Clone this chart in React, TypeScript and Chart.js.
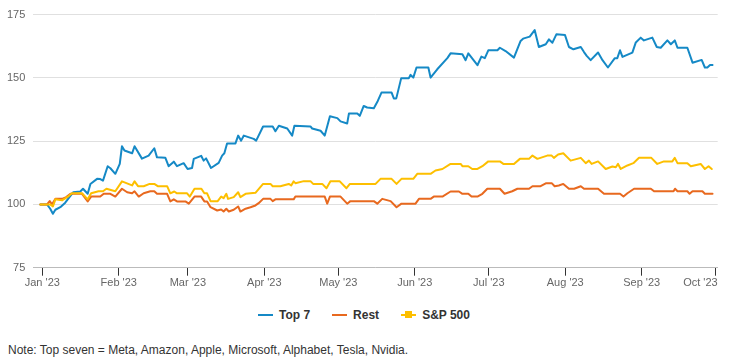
import React, { useEffect, useRef } from "react";
import { Chart, registerables } from "chart.js";

Chart.register(...registerables);

const FONT = "'Liberation Sans', Arial, Helvetica, sans-serif";

// x values are days since 1 Jan 2023
const monthTickDays = [0, 31, 59, 90, 120, 151, 181, 212, 243, 273];
const monthLabels = ["Jan '23", "Feb '23", "Mar '23", "Apr '23", "May '23", "Jun '23", "Jul '23", "Aug '23", "Sep '23", "Oct '23"];
const yTicks = [75, 100, 125, 150, 175];

const seriesNames = ["Top 7", "Rest", "S&P 500"];
const seriesColors = ["#1589c6", "#e8691f", "#fdbf00"];

const top7Days = [
  -0.8, 1.9, 3.2, 4.3, 5.3, 7.3, 9.3, 11.0, 12.5, 15.4,
  16.5, 18.4, 19.5, 22.2, 23.5, 24.6, 26.5, 27.6, 29.6, 31.4,
  32.3, 33.3, 36.4, 37.4, 40.4, 43.1, 45.4, 46.5, 49.9, 51.2,
  53.3, 54.6, 57.3, 58.9, 60.7, 61.4, 64.4, 65.4, 66.4, 68.4,
  71.5, 72.9, 73.8, 74.9, 78.3, 79.4, 80.6, 81.7, 85.7, 86.7,
  89.5, 93.4, 94.5, 95.9, 99.3, 101.3, 102.2, 108.7, 109.4, 112.8,
  114.5, 116.6, 119.6, 120.9, 123.6, 124.3, 127.7, 128.7, 130.3, 131.7,
  134.4, 136.0, 137.5, 141.6, 142.5, 143.5, 145.5, 148.6, 149.3, 150.4,
  151.7, 156.5, 157.4, 160.1, 164.2, 165.5, 170.3, 171.6, 172.7, 176.4,
  178.0, 179.4, 180.8, 184.5, 185.5, 187.8, 191.2, 193.9, 194.9, 197.6,
  199.6, 201.3, 204.1, 205.4, 206.8, 208.4, 211.9, 213.5, 215.3, 218.3,
  219.6, 220.7, 222.3, 225.3, 227.1, 229.3, 232.1, 233.1, 234.2, 235.2,
  239.2, 240.6, 242.6, 243.9, 247.3, 249.1, 250.7, 253.4, 254.8, 256.4,
  257.5, 261.5, 263.6, 267.3, 268.6, 269.6, 270.7, 271.7,
];
const top7Values = [
  100, 100, 98.3, 96.3, 97.9, 98.9, 100.7, 102.9, 104.8, 105.1,
  106.2, 104.2, 108.1, 110.1, 110, 109.4, 115.1, 114.3, 112.1, 116,
  123, 121.3, 120.2, 123, 118.1, 119.3, 122.2, 118.6, 118.4, 115.1,
  116.9, 115.1, 116.3, 114, 114.4, 118, 119.2, 117.3, 118.2, 114.4,
  116.4, 119.3, 120.2, 124.1, 124.1, 127.2, 125.2, 127.2, 125.9, 125.2,
  130.8, 130.8, 128.9, 131.1, 130, 127.2, 131.1, 130.8, 130, 129.1,
  127.2, 134.8, 134.1, 132.8, 132, 135.9, 135.9, 135, 138.9, 138.3,
  138, 140.9, 144.2, 144.2, 141.9, 141.9, 149.9, 149.9, 151.2, 150.1,
  154.1, 154.1, 150.1, 153.4, 157.8, 159.7, 159.3, 157, 159.7, 155,
  158.4, 157.8, 160.9, 160.9, 161.9, 160.6, 158, 164.6, 165.5, 166.3,
  168.9, 162.2, 163.3, 165.2, 163.9, 167.2, 166.9, 162.2, 161.3, 162.2,
  160.2, 158.7, 157, 160, 157, 154.1, 157.8, 157.8, 160.9, 158.3,
  160, 164, 165.9, 164.8, 165.9, 162.2, 161.9, 164.8, 163.3, 164.8,
  161.9, 161.9, 156, 157.1, 154.1, 154.1, 155.1, 155.1,
];

const restDays = [
  -0.8, 1.9, 3.0, 3.9, 5.3, 8.0, 9.7, 11.4, 16.1, 18.4,
  19.8, 23.5, 24.9, 27.6, 29.6, 32.3, 34.4, 36.4, 37.4, 39.1,
  41.1, 43.8, 45.4, 46.5, 50.6, 51.9, 53.3, 54.6, 58.0, 59.4,
  61.7, 64.4, 65.7, 66.8, 68.2, 70.9, 72.5, 73.5, 74.6, 75.6,
  77.6, 79.4, 80.3, 82.4, 84.4, 86.4, 87.7, 89.5, 92.5, 93.4,
  94.5, 101.9, 102.6, 114.5, 115.5, 116.6, 120.9, 123.6, 124.9, 134.4,
  135.8, 137.8, 141.2, 143.6, 145.6, 151.3, 152.7, 157.4, 158.7, 162.2,
  165.5, 168.9, 170.3, 172.7, 174.0, 176.4, 178.4, 180.4, 185.5, 187.4,
  190.5, 192.6, 197.3, 198.7, 202.0, 204.3, 206.5, 207.7, 209.4, 211.2,
  213.5, 215.6, 218.3, 219.6, 225.3, 227.7, 234.2, 235.6, 237.2, 239.9,
  246.7, 248.0, 255.9, 256.5, 257.5, 261.5, 262.4, 263.6, 267.6, 268.6,
  271.7,
];
const restValues = [
  100, 100, 101.3, 100, 102.2, 102.2, 102.9, 104.2, 104.2, 101.2,
  103.1, 103.1, 104.2, 104.2, 103.1, 106.2, 104.8, 104.4, 105.2, 103.1,
  104.4, 105.2, 105.2, 104.2, 104.2, 101.2, 102, 101.2, 101.2, 100.3,
  103.1, 103.1, 101.2, 101.2, 98.9, 97.6, 98, 97.2, 98.3, 97.2,
  97.9, 99.2, 97.2, 98.3, 98.9, 99.6, 100.5, 102.2, 102.2, 101.3,
  102, 102, 103.1, 103.1, 100.3, 103.1, 103.1, 100.3, 101.3, 101.3,
  100.3, 102.2, 101.3, 98.9, 100.3, 100.3, 102.2, 102.2, 103.1, 103.1,
  105.1, 105.1, 104.2, 104.2, 103.1, 103.1, 104.2, 106.2, 106.2, 104.2,
  105.2, 106.2, 106.2, 107.2, 107.2, 108.4, 108.4, 107.2, 107.5, 108.1,
  106.2, 106.2, 107.2, 106.2, 106.2, 104.2, 104.2, 103.1, 104.4, 106.2,
  106.2, 105.2, 105.2, 106.2, 105.2, 105.2, 104.2, 105.2, 105.2, 104.2,
  104.2,
];

const spxDays = [
  -0.8, 3.2, 4.3, 5.3, 8.0, 10.7, 12.0, 16.1, 18.4, 19.8,
  22.8, 24.6, 26.0, 29.6, 32.3, 36.4, 37.4, 38.8, 41.1, 43.5,
  45.4, 46.8, 50.6, 51.9, 53.5, 54.6, 58.7, 59.8, 61.7, 64.5,
  65.7, 66.8, 68.2, 71.1, 72.5, 73.5, 74.6, 75.3, 77.6, 79.4,
  80.3, 82.4, 86.4, 89.5, 92.5, 93.4, 96.5, 99.9, 100.9, 101.9,
  102.6, 106.0, 108.7, 109.8, 113.5, 115.2, 116.8, 120.5, 123.3, 124.7,
  135.1, 137.1, 141.6, 143.6, 145.6, 150.4, 152.0, 157.4, 159.4, 162.2,
  165.5, 169.6, 170.3, 172.7, 174.3, 176.4, 178.4, 180.8, 185.5, 186.9,
  191.2, 193.6, 197.3, 198.7, 200.7, 204.7, 206.5, 207.4, 209.1, 211.2,
  214.2, 218.3, 220.3, 221.6, 222.7, 225.3, 228.4, 231.1, 232.5, 233.4,
  234.5, 237.2, 239.6, 241.9, 246.9, 249.3, 252.0, 255.4, 256.4, 257.5,
  261.5, 262.9, 266.9, 268.6, 270.1, 271.4,
];
const spxValues = [
  100, 100, 99.2, 102, 101.6, 103.3, 104.4, 104.4, 102, 104.4,
  105.2, 105.2, 106.2, 105.2, 109.1, 107.5, 109.1, 107.2, 107.2, 108.1,
  108.1, 107.2, 107.2, 104.4, 105.1, 104.4, 104.4, 103.1, 106.2, 106.2,
  104.4, 104.4, 101.3, 101.3, 103.1, 102.5, 104.2, 102.2, 102.9, 104.8,
  102.9, 104.2, 104.6, 108.1, 108.1, 107.2, 107.2, 108.1, 107.5, 109.1,
  108.4, 109.2, 109.2, 108.1, 108.1, 106.4, 109.2, 109.2, 106.4, 108.1,
  108.1, 110.1, 110.1, 108.1, 110.1, 110.1, 112.1, 112.1, 113.4, 114,
  116, 116, 115.1, 115.1, 114, 114, 115.1, 117, 117, 116,
  116, 118, 118, 119.3, 118, 119.3, 119.3, 118.4, 119.7, 120.2,
  117.3, 118.4, 116.3, 117.3, 116, 117, 114, 115, 114.7, 116,
  114, 115.4, 116.3, 118.4, 118.4, 116, 117, 117, 118.4, 116.3,
  116.3, 115.1, 116, 114, 115.1, 114,
];

const noteText = "Note: Top seven = Meta, Amazon, Apple, Microsoft, Alphabet, Tesla, Nvidia.";

function zip(days: number[], values: number[]) {
  const n = Math.min(days.length, values.length);
  const out: { x: number; y: number }[] = [];
  for (let i = 0; i < n; i++) out.push({ x: days[i], y: values[i] });
  return out;
}

const xLabelPlugin = {
  id: "xMonthLabels",
  afterDraw(chart: any) {
    const xs = chart.scales.x;
    const ctx = chart.ctx;
    ctx.save();
    ctx.font = `11px ${FONT}`;
    ctx.fillStyle = "#666666";
    ctx.textBaseline = "middle";
    ctx.textAlign = "center";
    monthTickDays.forEach((d, i) => {
      const label = monthLabels[i];
      const w = ctx.measureText(label).width;
      let px = xs.getPixelForValue(d);
      px = Math.min(px, chart.chartArea.right - w / 2);
      ctx.fillText(label, px, xs.top + 15);
    });
    ctx.restore();
  },
};

function LegendItem({ label, color, marker }: { label: string; color: string; marker?: boolean }) {
  return (
    <div style={{ display: "flex", alignItems: "center", marginRight: 22 }}>
      <span style={{ position: "relative", display: "inline-block", width: 15, height: 2, background: color, marginRight: 6 }}>
        {marker ? (
          <span style={{ position: "absolute", left: 4, top: -3, width: 7, height: 7, background: color }} />
        ) : null}
      </span>
      <span>{label}</span>
    </div>
  );
}

export default function App() {
  const canvasRef = useRef<HTMLCanvasElement | null>(null);

  useEffect(() => {
    if (!canvasRef.current) return;
    Chart.defaults.font.family = FONT;
    const chart = new Chart(canvasRef.current, {
      type: "line",
      data: {
        datasets: [
          { label: seriesNames[2], data: zip(spxDays, spxValues), borderColor: seriesColors[2], backgroundColor: seriesColors[2] },
          { label: seriesNames[1], data: zip(restDays, restValues), borderColor: seriesColors[1], backgroundColor: seriesColors[1] },
          { label: seriesNames[0], data: zip(top7Days, top7Values), borderColor: seriesColors[0], backgroundColor: seriesColors[0] },
        ],
      },
      options: {
        animation: false,
        responsive: true,
        maintainAspectRatio: false,
        layout: { padding: { top: 13.5, right: 13.3, bottom: 0, left: 0 } },
        elements: {
          line: { borderWidth: 2, tension: 0, borderJoinStyle: "round", borderCapStyle: "round" },
          point: { radius: 0, hoverRadius: 0 },
        },
        plugins: { legend: { display: false }, tooltip: { enabled: false } },
        scales: {
          x: {
            type: "linear",
            min: -3.65,
            max: 273.8,
            afterBuildTicks: (scale: any) => {
              scale.ticks = monthTickDays.map((v) => ({ value: v }));
            },
            afterFit: (scale: any) => {
              scale.height = 32.3;
              scale.paddingLeft = 0;
              scale.paddingRight = 0;
            },
            ticks: { display: false },
            grid: { drawOnChartArea: false, drawTicks: true, tickLength: 8, tickColor: "#333333", tickWidth: 1 },
            border: { display: true, color: "#bbbbbb", width: 1 },
          },
          y: {
            min: 75,
            max: 175,
            afterBuildTicks: (scale: any) => {
              scale.ticks = yTicks.map((v) => ({ value: v }));
            },
            afterFit: (scale: any) => {
              scale.width = 33.3;
            },
            ticks: { color: "#666666", font: { size: 11, family: FONT }, padding: 8 },
            grid: { color: "#e0e0e0", drawTicks: false, lineWidth: 1 },
            border: { display: false },
          },
        },
      },
      plugins: [xLabelPlugin],
    });
    return () => chart.destroy();
  }, []);

  return (
    <div style={{ fontFamily: FONT }}>
      <div style={{ position: "absolute", left: 0, top: 0, width: 731, height: 300 }}>
        <canvas ref={canvasRef} />
      </div>
      <div
        style={{
          position: "absolute",
          left: 258,
          top: 307,
          height: 16,
          lineHeight: "16px",
          display: "flex",
          fontSize: 12,
          fontWeight: "bold",
          color: "#333333",
        }}
      >
        <LegendItem label={seriesNames[0]} color={seriesColors[0]} />
        <LegendItem label={seriesNames[1]} color={seriesColors[1]} />
        <LegendItem label={seriesNames[2]} color={seriesColors[2]} marker />
      </div>
      <div
        style={{
          position: "absolute",
          left: 8,
          top: 342,
          fontSize: 12,
          lineHeight: "16px",
          color: "#333333",
          whiteSpace: "nowrap",
        }}
      >
        {noteText}
      </div>
    </div>
  );
}
